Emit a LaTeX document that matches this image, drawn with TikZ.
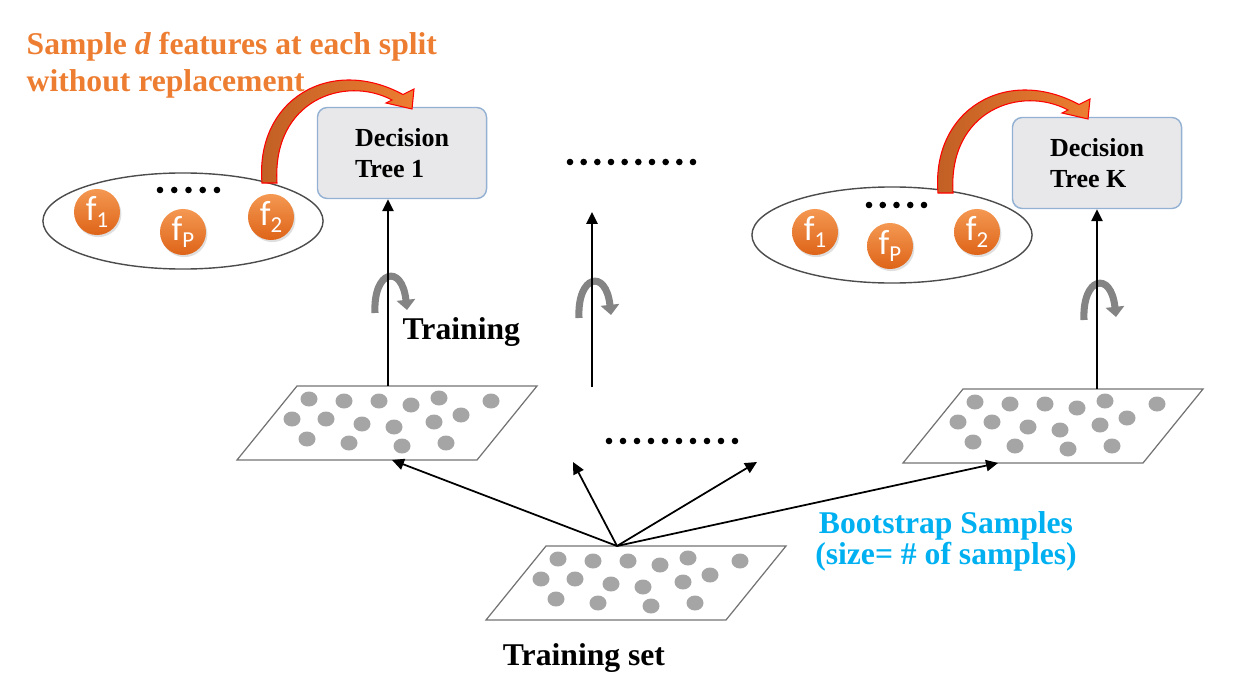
\documentclass[tikz,border=0pt]{standalone}
\usepackage{fontspec}
\setmainfont{Liberation Serif}
\newfontfamily\featfont{Carlito}
\usetikzlibrary{arrows.meta,decorations.markings,shapes.geometric,shadows}
\definecolor{pickorange}{RGB}{237,125,49}
\definecolor{pickbrown}{RGB}{192,94,36}
\definecolor{bootblue}{RGB}{0,176,240}
\definecolor{treefill}{RGB}{232,232,235}
\definecolor{treeedge}{RGB}{147,177,210}
\definecolor{ptgray}{RGB}{165,165,165}
\definecolor{turngray}{RGB}{132,132,132}
\definecolor{feattop}{RGB}{244,152,82}
\definecolor{featbot}{RGB}{222,100,24}
\newcommand{\mkset}[1]{\draw[setedge] (#1) -- ++(240,0) -- ++(-60,74) -- ++(-240,0) -- cycle;
  \foreach \dx/\dy in {12/13,47/15,82/15,114/19,142/12,194/15,-5/33,29/33,65/38,97/41,137/36,164/29,10/53,52/57,105/60,149/57}
    \fill[ptgray] (#1) ++(\dx,\dy) ellipse (8.5 and 7.5);}
\newcommand{\mkfeat}[3]{\node[feat] (#1) at (#2) {f\raisebox{-0.45ex}{\fontsize{6.5}{6.5}\selectfont #3}};}
\newcommand{\mkturn}[2]{\draw[turn] (#1-13,#2+40) .. controls (#1-15,#2-3) and (#1+14,#2-10) .. (#1+19,#2+37);}
\newcommand{\mkpick}[1]{\begin{scope}[shift={(#1)}]
  \draw[pick] (262,183) .. controls (255,100) and (330,55) .. (403,94.5) -- (414,89) -- (412,109) -- (386,103) -- (392,100) .. controls (345,75) and (272,100) .. (277,183) -- cycle;
  \end{scope}}

\begin{document}
\begin{tikzpicture}[x=0.01cm, y=-0.01cm,
    lbl/.style={font=\fontsize{9}{10.5}\selectfont\bfseries, inner sep=0pt},
    tree/.style={draw=treeedge, fill=treefill, rounded corners=2.8pt, minimum width=1.69cm, minimum height=0.91cm, align=left, font=\fontsize{7.4}{8.6}\selectfont\bfseries},
    feats/.style={draw=black!70, ellipse, minimum width=2.8cm, minimum height=0.96cm, inner sep=0pt},
    feat/.style={circle, minimum size=0.46cm, inner sep=0pt, top color=feattop, bottom color=featbot, drop shadow={opacity=0.25,shadow xshift=0.4pt,shadow yshift=-0.6pt}, text=white, font=\featfont\fontsize{10}{10}\selectfont},
    setedge/.style={draw=black!55, line width=0.35pt},
    arr/.style={-{Triangle[length=3.4pt,width=3.2pt]}, line width=0.5pt},
    turn/.style={draw=turngray, line width=2pt, -{Triangle[length=2.9pt,width=5.2pt]}},
    pick/.style={left color=pickbrown, right color=pickorange, draw=red, line width=0.3pt},
    dotrow/.style={postaction=decorate, decoration={markings, mark=between positions 0 and 1 step #1 with {\fill (0,0) circle (3.3);}}}
    ]
  \useasboundingbox (0,0) rectangle (1243,685);

  \node[lbl, text=pickorange, align=left, anchor=north west] (pickhint) at (26,32) {Sample \textit{d} features at each split\\without replacement};
  \node[tree] (tree1) at (402,153) {Decision\\Tree 1};
  \node[tree] (treeK) at (1097,163) {Decision\\Tree K};

  \node[feats] (feats1) at (183,221) {};
  \node[feats] (featsK) at (892,235) {};
  \mkfeat{f11}{97,212}{1}
  \mkfeat{f1p}{183,232}{P}
  \mkfeat{f12}{271,217}{2}
  \mkfeat{fK1}{815,232}{1}
  \mkfeat{fKp}{890,246}{P}
  \mkfeat{fK2}{977,232}{2}
  \path[dotrow=0.2499] (160,190) -- (217,190);
  \path[dotrow=0.2499] (869,205) -- (924,205);
  \mkpick{0,0}
  \mkpick{676,10}

  \path[dotrow=0.1111] (570,162) -- (693,162);
  \path[dotrow=0.1111] (609,441) -- (735,441);

  \coordinate (set1) at (297,386);
  \coordinate (setK) at (963,389);
  \coordinate (trainset) at (546,546);
  \mkset{set1}
  \mkset{setK}
  \mkset{trainset}

  \mkturn{388}{273}
  \mkturn{592}{278}
  \mkturn{1097}{280}
  \coordinate (up1) at (388,386);
  \coordinate (upK) at (1097,389);
  \coordinate (mid0) at (592,387);
  \coordinate (mid1) at (592,212);
  \draw[arr] (up1) -- (up1 |- tree1.south);
  \draw[arr] (upK) -- (upK |- treeK.south);
  \draw[arr] (mid0) -- (mid1);
  \node[lbl, anchor=base west] (fitlbl) at (402,339) {Training};

  \coordinate (src) at (617,546);
  \coordinate (in1) at (392,460);
  \coordinate (inA) at (573,462);
  \coordinate (inB) at (757,462);
  \coordinate (inK) at (998,463);
  \foreach \t in {in1,inA,inB,inK}
    \draw[arr] (src) -- (\t);

  \node[lbl, text=bootblue, align=center, font=\fontsize{9}{8.8}\selectfont\bfseries, anchor=north] (bootlbl) at (946,511) {Bootstrap Samples\\(size= \# of samples)};
  \node[lbl, anchor=base] (trainlbl) at (584,665) {Training set};
\end{tikzpicture}
\end{document}
